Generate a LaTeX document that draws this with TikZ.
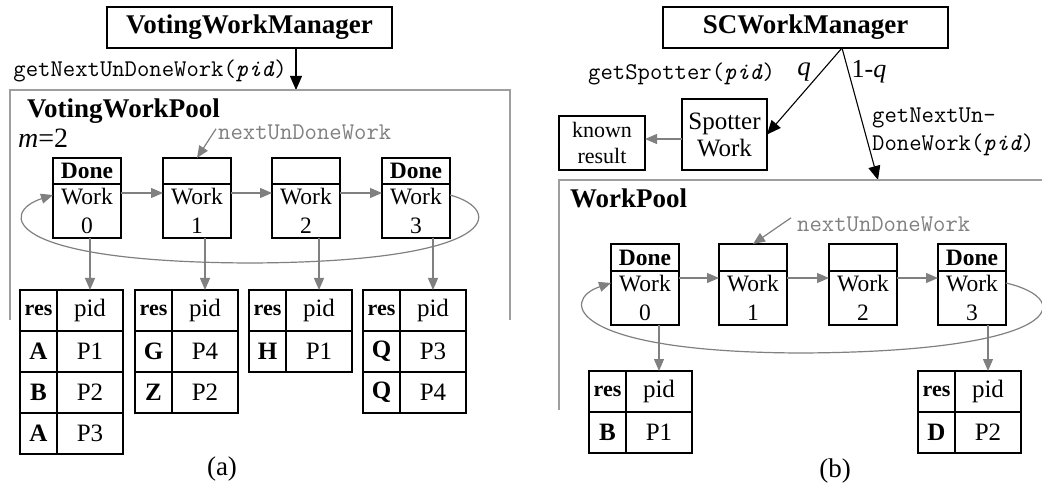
\documentclass[tikz,border=0pt]{standalone}
\usepackage{fontspec}
\setmainfont{Liberation Serif}
\usetikzlibrary{arrows.meta,calc}

\definecolor{linkgray}{gray}{0.5}
\definecolor{framegray}{gray}{0.62}

\newcommand\fsz[2]{\fontsize{#1}{#2}\selectfont}

\tikzset{
  box/.style={draw, line width=1.2pt, inner sep=0pt, outer sep=0pt},
  mgr/.style={box, minimum width=285pt, minimum height=41pt, font=\fsz{27}{30}\bfseries},
  worktop/.style={box, minimum width=68pt, minimum height=26pt, font=\fsz{23.5}{26}\bfseries},
  workbot/.style={box, minimum width=68pt, minimum height=54pt, align=center, font=\fsz{23.5}{29}},
  rescell/.style={box, minimum width=37pt, minimum height=41pt, font=\fsz{25}{28}},
  pidcell/.style={box, minimum width=66pt, minimum height=41pt, font=\fsz{25}{28}},
  monolbl/.style={inner sep=0pt, font=\fsz{24}{28}\ttfamily},
  pooltitle/.style={inner sep=0pt, font=\fsz{27}{30}\bfseries},
  frame/.style={draw=framegray, line width=1.2pt},
  callarrow/.style={line width=1.1pt, -{Triangle[length=14pt, width=12pt]}},
  link/.style={draw=linkgray, line width=1.2pt, -{Triangle[length=12pt, width=10pt]}},
}

% a result table: name, left x, top y, rows res/pid
\newcommand\restable[4]{%
  \node[rescell, anchor=north west] (#1-r0) at (#2,#3) {\fsz{22}{24}\bfseries res};
  \node[pidcell, anchor=north west] (#1-p0) at (#1-r0.north east) {pid};
  \foreach \rv/\pv [count=\i] in {#4} {
    \node[rescell, anchor=north west] (#1-r\i) at (#2,#3+41*\i) {\bfseries\rv};
    \node[pidcell, anchor=north west] (#1-p\i) at (#1-r\i.north east) {\pv};
  }%
}

\begin{document}
\begin{tikzpicture}[x=1pt, y=-1pt]
\useasboundingbox (0,0) rectangle (1042,489);

% ---------------- (a) voting work pool ----------------
\node[mgr] (vwm) at (249.5,27.5) {VotingWorkManager};
\coordinate (ain) at (296,90);
\draw[callarrow] (vwm.south -| ain) -- (ain);
\node[monolbl, anchor=base east] (agnw) at (287,77) {getNextUnDoneWork(\textit{pid})};

\draw[frame] (10,320) -- (10,90) -- (510,90) -- (510,320);
\node[pooltitle, anchor=base west] (apool) at (27,118) {VotingWorkPool};
\node[inner sep=0pt, anchor=base west, font=\fsz{28}{30}] (am) at (18,148) {\textit{m}=2};
\node[monolbl, anchor=base west, text=linkgray] (anext) at (218,140) {nextUnDoneWork};

\foreach \k/\x/\d in {0/53/Done, 1/163/, 2/272/, 3/382/Done} {
  \node[worktop, anchor=north west] (aw\k t) at (\x,158) {\d};
  \node[workbot, anchor=north] (aw\k) at (aw\k t.south) {Work\\\k};
}
\draw[link] (anext.west) ++(-2,-4) coordinate (anexttail) -- (aw1t.north);
\foreach \a/\b in {0/1, 1/2, 2/3}
  \draw[link] ([yshift=18pt]aw\a.east) -- ([yshift=18pt]aw\b.west);
\draw[link, -] ([yshift=16pt]aw3.east) .. controls (505,210) and (502,262) .. (250,263) coordinate (aloopbot);
\draw[link] (aloopbot) .. controls (0,262) and (0,212) .. ([yshift=16pt]aw0.west);

\restable{ta}{20}{290}{A/P1, B/P2, A/P3}
\restable{tb}{135}{290}{G/P4, Z/P2}
\restable{tc}{249}{290}{H/P1}
\restable{td}{363}{290}{Q/P3, Q/P4}
\foreach \k/\t in {0/ta, 1/tb, 2/tc, 3/td}
  \draw[link] (\t-p0.north |- aw\k.south) -- (\t-p0.north);

\node[inner sep=0pt, font=\fsz{27}{30}] (capa) at (222,469) {(a)};

% ---------------- (b) spot-check work pool ----------------
\node[mgr] (scm) at (805.5,27.5) {SCWorkManager};
\coordinate (scout) at (842,48);
\node[box, minimum width=85pt, minimum height=71pt, align=center, font=\fsz{25}{27}] (spot) at (724.5,134.5) {Spotter\\Work};
\node[box, minimum width=86pt, minimum height=54pt, align=center, font=\fsz{22}{26}] (known) at (602,143) {known\\result};
\draw[link] ([yshift=-4.5pt]spot.west) -- ([yshift=4pt]known.east);
\coordinate (bin) at (878,180);
\draw[callarrow] (scout) -- (spot.east);
\draw[callarrow] (scout) -- (bin);
\node[inner sep=0pt, font=\fsz{27}{28}\itshape] (lq) at (804,72) {q};
\node[inner sep=0pt, font=\fsz{26}{28}] (l1q) at (869,72) {1-\textit{q}};
\node[monolbl, anchor=base west] (bgsp) at (588,80) {getSpotter(\textit{pid})};
\node[monolbl, anchor=west, align=left] (bgnw) at (872,132) {getNextUn-\\DoneWork(\textit{pid})};

\draw[frame] (559,410) -- (559,180) -- (1042,180);
\node[pooltitle, anchor=base west] (bpool) at (570,208) {WorkPool};
\node[monolbl, anchor=base west, text=linkgray] (bnext) at (797,232) {nextUnDoneWork};

\foreach \k/\x/\d in {0/611/Done, 1/719/, 2/829/, 3/938/Done} {
  \node[worktop, minimum height=27pt, anchor=north west] (bw\k t) at (\x,244) {\d};
  \node[workbot, anchor=north] (bw\k) at (bw\k t.south) {Work\\\k};
}
\draw[link] (bnext.west) ++(-6,-7) coordinate (bnexttail) -- (bw1t.north);
\foreach \a/\b in {0/1, 1/2, 2/3}
  \draw[link] ([yshift=20pt]bw\a.east) -- ([yshift=20pt]bw\b.west);
\draw[link, -] ([yshift=15pt]bw3.east) .. controls (1078,300) and (1062,352) .. (800,353) coordinate (bloopbot);
\draw[link] (bloopbot) .. controls (568,352) and (560,300) .. ([yshift=15pt]bw0.west);

\restable{te}{589}{371}{B/P1}
\restable{tf}{918}{371}{D/P2}
\draw[link] (te-p0.north |- bw0.south) -- (te-p0.north);
\draw[link] (tf-p0.north |- bw3.south) -- (tf-p0.north);

\node[inner sep=0pt, font=\fsz{27}{30}] (capb) at (835,471) {(b)};
\end{tikzpicture}
\end{document}
